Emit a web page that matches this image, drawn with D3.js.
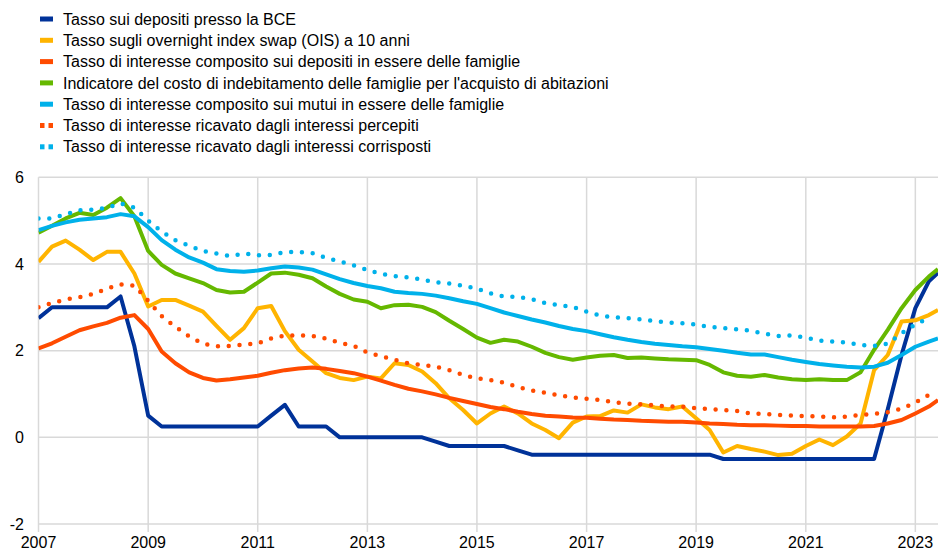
<!DOCTYPE html>
<html>
<head>
<meta charset="utf-8">
<script src="https://cdn.jsdelivr.net/npm/d3@7/dist/d3.min.js"></script>
<style>
  html, body { margin: 0; padding: 0; background: #fff; }
  svg { display: block; font-family: "Liberation Sans", Arial, sans-serif; }
</style>
</head>
<body>
<svg id="chart" width="938" height="551"></svg>
<script>
// Quarterly observations (start of quarter) plus the latest reading (June 2023)
const dates = [
  "2007-01","2007-04","2007-07","2007-10","2008-01","2008-04","2008-07","2008-10",
  "2009-01","2009-04","2009-07","2009-10","2010-01","2010-04","2010-07","2010-10",
  "2011-01","2011-04","2011-07","2011-10","2012-01","2012-04","2012-07","2012-10",
  "2013-01","2013-04","2013-07","2013-10","2014-01","2014-04","2014-07","2014-10",
  "2015-01","2015-04","2015-07","2015-10","2016-01","2016-04","2016-07","2016-10",
  "2017-01","2017-04","2017-07","2017-10","2018-01","2018-04","2018-07","2018-10",
  "2019-01","2019-04","2019-07","2019-10","2020-01","2020-04","2020-07","2020-10",
  "2021-01","2021-04","2021-07","2021-10","2022-01","2022-04","2022-07","2022-10",
  "2023-01","2023-04","2023-06"
];

// Tasso sui depositi presso la BCE
const ecbDepositRate = [
  2.75, 3.00, 3.00, 3.00,  3.00, 3.00, 3.25, 2.10,
  0.50, 0.25, 0.25, 0.25,  0.25, 0.25, 0.25, 0.25,
  0.25, 0.50, 0.75, 0.25,  0.25, 0.25, 0.00, 0.00,
  0.00, 0.00, 0.00, 0.00,  0.00, -0.10, -0.20, -0.20,
  -0.20, -0.20, -0.20, -0.30,  -0.40, -0.40, -0.40, -0.40,
  -0.40, -0.40, -0.40, -0.40,  -0.40, -0.40, -0.40, -0.40,
  -0.40, -0.40, -0.50, -0.50,  -0.50, -0.50, -0.50, -0.50,
  -0.50, -0.50, -0.50, -0.50,  -0.50, -0.50, 0.65, 1.90,
  2.98, 3.60, 3.80
];

// Tasso OIS a 10 anni
const ois10y = [
  4.05, 4.40, 4.54, 4.33,  4.09, 4.28, 4.28, 3.78,
  3.02, 3.17, 3.17, 3.04,  2.90, 2.57, 2.25, 2.52,
  2.98, 3.03, 2.45, 2.02,  1.75, 1.48, 1.37, 1.32,
  1.40, 1.36, 1.71, 1.67,  1.52, 1.25, 0.90, 0.63,
  0.32, 0.55, 0.71, 0.55,  0.32, 0.17, -0.02, 0.34,
  0.48, 0.49, 0.62, 0.57,  0.76, 0.69, 0.65, 0.71,
  0.44, 0.17, -0.35, -0.20,  -0.27, -0.33, -0.41, -0.38,
  -0.20, -0.05, -0.18, 0.02,  0.32, 1.55, 1.90, 2.67,
  2.70, 2.82, 2.94
];

// Tasso composito sui depositi in essere delle famiglie
const householdDeposits = [
  2.05, 2.17, 2.32, 2.47,  2.56, 2.64, 2.76, 2.82,
  2.50, 1.98, 1.71, 1.50,  1.37, 1.31, 1.34, 1.38,
  1.42, 1.49, 1.55, 1.59,  1.61, 1.58, 1.53, 1.48,
  1.40, 1.31, 1.21, 1.12,  1.06, 0.99, 0.91, 0.84,
  0.77, 0.70, 0.65, 0.59,  0.54, 0.50, 0.48, 0.46,
  0.45, 0.43, 0.41, 0.40,  0.38, 0.37, 0.36, 0.36,
  0.34, 0.32, 0.31, 0.29,  0.28, 0.28, 0.27, 0.26,
  0.26, 0.25, 0.25, 0.25,  0.25, 0.26, 0.32, 0.40,
  0.55, 0.71, 0.86
];

// Costo di indebitamento delle famiglie per l'acquisto di abitazioni
const housingBorrowingCost = [
  4.72, 4.88, 5.05, 5.18,  5.13, 5.30, 5.52, 5.10,
  4.30, 3.98, 3.78, 3.67,  3.56, 3.40, 3.34, 3.36,
  3.57, 3.78, 3.80, 3.75,  3.67, 3.48, 3.31, 3.18,
  3.13, 2.98, 3.05, 3.06,  3.01, 2.89, 2.69, 2.50,
  2.30, 2.18, 2.25, 2.21,  2.09, 1.95, 1.85, 1.79,
  1.84, 1.88, 1.90, 1.83,  1.84, 1.82, 1.80, 1.79,
  1.78, 1.67, 1.50, 1.42,  1.40, 1.44, 1.38, 1.34,
  1.32, 1.34, 1.32, 1.32,  1.50, 2.02, 2.48, 2.98,
  3.40, 3.71, 3.88
];

// Tasso composito sui mutui in essere delle famiglie
const outstandingMortgages = [
  4.78, 4.88, 4.96, 5.02,  5.05, 5.08, 5.15, 5.10,
  4.85, 4.55, 4.33, 4.15,  4.03, 3.88, 3.84, 3.82,
  3.85, 3.90, 3.94, 3.92,  3.87, 3.76, 3.65, 3.56,
  3.49, 3.44, 3.36, 3.33,  3.31, 3.27, 3.21, 3.14,
  3.08, 2.98, 2.88, 2.80,  2.72, 2.65, 2.57, 2.50,
  2.45, 2.38, 2.31, 2.25,  2.20, 2.16, 2.13, 2.10,
  2.08, 2.04, 2.00, 1.95,  1.91, 1.91, 1.85, 1.79,
  1.74, 1.69, 1.66, 1.63,  1.61, 1.63, 1.72, 1.90,
  2.09, 2.21, 2.28
];

// Tasso ricavato dagli interessi percepiti
const interestReceived = [
  3.00, 3.10, 3.18, 3.23,  3.31, 3.43, 3.53, 3.50,
  3.15, 2.80, 2.55, 2.33,  2.16, 2.10, 2.11, 2.14,
  2.17, 2.28, 2.35, 2.35,  2.34, 2.28, 2.18, 2.11,
  1.96, 1.87, 1.79, 1.71,  1.67, 1.63, 1.55, 1.44,
  1.36, 1.32, 1.26, 1.16,  1.08, 1.03, 0.97, 0.92,
  0.89, 0.86, 0.81, 0.78,  0.76, 0.74, 0.71, 0.71,
  0.67, 0.65, 0.63, 0.61,  0.55, 0.54, 0.52, 0.50,
  0.49, 0.48, 0.46, 0.48,  0.52, 0.54, 0.58, 0.66,
  0.80, 0.98, null
];

// Tasso ricavato dagli interessi corrisposti
const interestPaid = [
  5.05, 5.05, 5.15, 5.24,  5.25, 5.30, 5.40, 5.30,
  5.00, 4.75, 4.55, 4.42,  4.30, 4.24, 4.18, 4.24,
  4.20, 4.21, 4.27, 4.28,  4.25, 4.14, 4.06, 3.97,
  3.86, 3.77, 3.72, 3.69,  3.64, 3.58, 3.55, 3.50,
  3.43, 3.32, 3.25, 3.24,  3.19, 3.10, 3.05, 3.01,
  2.90, 2.81, 2.77, 2.75,  2.72, 2.68, 2.65, 2.63,
  2.60, 2.55, 2.52, 2.49,  2.46, 2.39, 2.34, 2.35,
  2.30, 2.23, 2.21, 2.19,  2.13, 2.11, 2.16, 2.40,
  2.60, 2.76, null
];

const seriesNames = [
  "Tasso sui depositi presso la BCE",
  "Tasso sugli overnight index swap (OIS) a 10 anni",
  "Tasso di interesse composito sui depositi in essere delle famiglie",
  "Indicatore del costo di indebitamento delle famiglie per l'acquisto di abitazioni",
  "Tasso di interesse composito sui mutui in essere delle famiglie",
  "Tasso di interesse ricavato dagli interessi percepiti",
  "Tasso di interesse ricavato dagli interessi corrisposti"
];
const seriesValues = [ecbDepositRate, ois10y, householdDeposits, housingBorrowingCost,
                      outstandingMortgages, interestReceived, interestPaid];
const seriesColors = ["#003299", "#ffb400", "#ff4b00", "#65b800", "#00b1ea", "#ff4b00", "#00b1ea"];
const seriesDotted = [false, false, false, false, false, true, true];

const yTicks = [-2, 0, 2, 4, 6];
const xTickYears = [2007, 2009, 2011, 2013, 2015, 2017, 2019, 2021, 2023];

const parse = d3.timeParse("%Y-%m");
const svg = d3.select("#chart");

const plot = { left: 38.5, right: 938, top: 177.3, bottom: 524 };

const x = d3.scaleTime()
  .domain([parse("2007-01"), parse("2023-06")])
  .range([plot.left, plot.right]);
const y = d3.scaleLinear()
  .domain([-2, 6])
  .range([plot.bottom, plot.top]);

// Grid
const grid = svg.append("g").attr("class", "grid");
grid.selectAll("line.h").data(yTicks).join("line")
  .attr("x1", plot.left).attr("x2", plot.right)
  .attr("y1", d => y(d)).attr("y2", d => y(d))
  .attr("stroke", "#d9d9d9").attr("stroke-width", 1.5);
grid.selectAll("line.v").data(xTickYears).join("line")
  .attr("x1", d => x(new Date(d, 0, 1))).attr("x2", d => x(new Date(d, 0, 1)))
  .attr("y1", plot.top).attr("y2", plot.bottom + 8)
  .attr("stroke", "#d9d9d9").attr("stroke-width", 1.5);

// Axis labels
svg.append("g").selectAll("text").data(yTicks).join("text")
  .attr("x", 24).attr("y", d => y(d)).attr("dy", "0.35em")
  .attr("text-anchor", "end").attr("font-size", 16).attr("fill", "#000")
  .text(d => d);
svg.append("g").selectAll("text").data(xTickYears).join("text")
  .attr("x", d => x(new Date(d, 0, 1))).attr("y", 548)
  .attr("text-anchor", "middle").attr("font-size", 16).attr("fill", "#000")
  .text(d => d);

// Series lines
const line = d3.line()
  .defined(d => d.v !== null)
  .x(d => x(d.t)).y(d => y(d.v));

const plotClip = svg.append("clipPath").attr("id", "plotClip")
  .append("rect").attr("x", plot.left).attr("y", 0)
  .attr("width", plot.right - plot.left).attr("height", 551);

const linesG = svg.append("g").attr("clip-path", "url(#plotClip)");
seriesValues.forEach((vals, i) => {
  const pts = vals.map((v, k) => ({ t: parse(dates[k]), v }));
  const path = linesG.append("path")
    .attr("d", line(pts))
    .attr("fill", "none")
    .attr("stroke", seriesColors[i])
    .attr("stroke-width", 4)
    .attr("stroke-linejoin", "round");
  if (seriesDotted[i]) {
    path.attr("stroke-width", 4.5)
      .attr("stroke-linecap", "round")
      .attr("stroke-dasharray", "0 10.8");
  }
});

// Legend
const legend = svg.append("g").attr("class", "legend");
seriesNames.forEach((name, i) => {
  const cy = 19 + i * 21.3;
  const g = legend.append("g");
  if (seriesDotted[i]) {
    g.append("rect").attr("x", 40).attr("y", cy - 2.5).attr("width", 4.5).attr("height", 5)
      .attr("fill", seriesColors[i]);
    g.append("rect").attr("x", 48.5).attr("y", cy - 2.5).attr("width", 4.5).attr("height", 5)
      .attr("fill", seriesColors[i]);
  } else {
    g.append("rect").attr("x", 40).attr("y", cy - 2.5).attr("width", 13).attr("height", 5)
      .attr("fill", seriesColors[i]);
  }
  g.append("text").attr("x", 63).attr("y", cy).attr("dy", "0.35em")
    .attr("font-size", 16).attr("fill", "#000").text(name);
});
</script>
</body>
</html>
